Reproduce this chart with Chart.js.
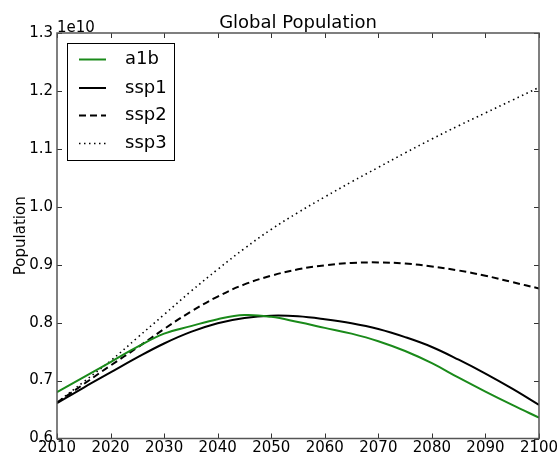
<!DOCTYPE html>
<html>
<head>
<meta charset="utf-8">
<script src="https://cdn.jsdelivr.net/npm/chart.js@4/dist/chart.umd.min.js"></script>
<style>
  html, body { margin: 0; padding: 0; background: #fff; }
  canvas { display: block; }
</style>
</head>
<body>
<canvas id="chart" width="560" height="456"></canvas>
<script>
"use strict"

// values, in units of 1e10 people
const years = [2010, 2015, 2020, 2025, 2030, 2035, 2040, 2045, 2050, 2055,
               2060, 2065, 2070, 2075, 2080, 2085, 2090, 2095, 2100]
const a1b  = [0.680, 0.706, 0.732, 0.758, 0.781, 0.794, 0.806, 0.813, 0.810, 0.801,
              0.791, 0.781, 0.768, 0.751, 0.730, 0.705, 0.681, 0.658, 0.636]
const ssp1 = [0.661, 0.688, 0.714, 0.740, 0.764, 0.784, 0.799, 0.808, 0.812, 0.811,
              0.806, 0.799, 0.789, 0.775, 0.758, 0.736, 0.712, 0.686, 0.658]
const ssp2 = [0.662, 0.694, 0.726, 0.757, 0.789, 0.819, 0.845, 0.866, 0.881, 0.892,
              0.899, 0.903, 0.904, 0.902, 0.897, 0.890, 0.881, 0.870, 0.859]
const ssp3 = [0.662, 0.698, 0.734, 0.774, 0.814, 0.854, 0.892, 0.928, 0.961, 0.990,
              1.017, 1.043, 1.068, 1.093, 1.117, 1.140, 1.162, 1.184, 1.206]

const xTicks = [2010, 2020, 2030, 2040, 2050, 2060, 2070, 2080, 2090, 2100]
const yTicks = [0.6, 0.7, 0.8, 0.9, 1.0, 1.1, 1.2, 1.3]

const FONT = "'DejaVu Sans', sans-serif"
const pts = arr => arr.map((v, i) => ({x: years[i], y: v * 1e10}))

const series = [
  {label: "a1b",  data: pts(a1b),  borderColor: "#1a8a1a", borderWidth: 2, borderDash: []},
  {label: "ssp1", data: pts(ssp1), borderColor: "#000",    borderWidth: 2, borderDash: []},
  {label: "ssp2", data: pts(ssp2), borderColor: "#000",    borderWidth: 2, borderDash: [7, 4]},
  {label: "ssp3", data: pts(ssp3), borderColor: "#000",    borderWidth: 1.6, borderDash: [1.5, 3.5]}
]

const decor = {
  id: "decor",
  afterDatasetsDraw(chart) {
    const {ctx, chartArea: a, scales: {x, y}} = chart
    ctx.save()
    // inward ticks on all four sides
    ctx.strokeStyle = "#333"
    ctx.lineWidth = 1
    ctx.beginPath()
    xTicks.forEach(t => {
      const px = Math.round(x.getPixelForValue(t)) + 0.5
      ctx.moveTo(px, a.bottom); ctx.lineTo(px, a.bottom - 5)
      ctx.moveTo(px, a.top);    ctx.lineTo(px, a.top + 5)
    })
    yTicks.forEach(t => {
      const py = Math.round(y.getPixelForValue(t * 1e10)) + 0.5
      ctx.moveTo(a.left, py);  ctx.lineTo(a.left + 5, py)
      ctx.moveTo(a.right, py); ctx.lineTo(a.right - 5, py)
    })
    ctx.stroke()
    // frame
    ctx.strokeStyle = "#555"
    ctx.lineWidth = 1.5
    ctx.strokeRect(a.left, a.top, a.right - a.left, a.bottom - a.top)
    ctx.restore()
  },
  afterDraw(chart) {
    const {ctx, chartArea: a} = chart
    ctx.save()
    ctx.fillStyle = "#000"
    // title
    ctx.font = "18px " + FONT
    ctx.textAlign = "center"
    ctx.textBaseline = "alphabetic"
    ctx.fillText("Global Population", (a.left + a.right) / 2, 28)
    // offset text
    ctx.font = "15px " + FONT
    ctx.textAlign = "left"
    ctx.fillText("1e10", a.left, 31.5)
    // y axis label
    ctx.translate(25, (a.top + a.bottom) / 2)
    ctx.rotate(-Math.PI / 2)
    ctx.textAlign = "center"
    ctx.fillText("Population", 0, 0)
    ctx.restore()

    // legend
    ctx.save()
    ctx.fillStyle = "#fff"
    ctx.fillRect(67, 43, 107, 117)
    ctx.strokeStyle = "#000"
    ctx.lineWidth = 1
    ctx.strokeRect(67.5, 43.5, 107, 117)
    const rows = [59.5, 88, 115.5, 143.5]
    ctx.font = "18px " + FONT
    ctx.textAlign = "left"
    ctx.textBaseline = "middle"
    chart.data.datasets.forEach((ds, i) => {
      ctx.strokeStyle = ds.borderColor
      ctx.lineWidth = ds.borderWidth
      ctx.setLineDash(ds.borderDash)
      ctx.beginPath()
      ctx.moveTo(79, rows[i]); ctx.lineTo(106, rows[i])
      ctx.stroke()
      ctx.setLineDash([])
      ctx.fillStyle = "#000"
      ctx.fillText(ds.label, 125, rows[i])
    })
    ctx.restore()
  }
}

new Chart("chart", {
  type: "line",
  data: {
    datasets: series.map(s => ({
      ...s,
      fill: false,
      pointRadius: 0,
      tension: 0.4,
      borderCapStyle: "butt"
    }))
  },
  options: {
    responsive: false,
    animation: false,
    devicePixelRatio: 1,
    layout: {padding: {top: 33, right: 21, left: 0, bottom: 0}},
    plugins: {legend: {display: false}, title: {display: false}, tooltip: {enabled: false}},
    scales: {
      x: {
        type: "linear", min: 2010, max: 2100,
        grid: {display: false, drawTicks: false}, border: {display: false},
        afterFit: s => { s.height = 17.5 },
        afterBuildTicks: s => { s.ticks = xTicks.map(v => ({value: v})) },
        ticks: {
          autoSkip: false, maxRotation: 0, padding: 1, color: "#000",
          font: {family: FONT, size: 15},
          callback: v => String(v)
        }
      },
      y: {
        type: "linear", min: 0.6e10, max: 1.3e10,
        grid: {display: false, drawTicks: false}, border: {display: false},
        afterFit: s => { s.width = 57 },
        afterBuildTicks: s => { s.ticks = yTicks.map(v => ({value: v * 1e10})) },
        ticks: {
          padding: 4, color: "#000",
          font: {family: FONT, size: 15},
          callback: v => (v / 1e10).toFixed(1)
        }
      }
    }
  },
  plugins: [decor]
})
</script>
</body>
</html>
